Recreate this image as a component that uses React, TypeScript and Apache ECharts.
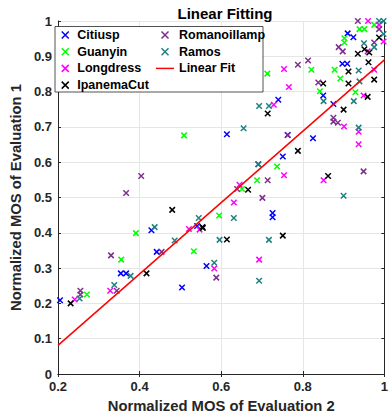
import React, { useEffect, useRef } from "react";
import * as echarts from "echarts";

const seriesNames = ["Citiusp", "Guanyin", "Longdress", "IpanemaCut", "Romanoillamp", "Ramos"];
const seriesColors = ["#0000ff", "#00ff00", "#ff00ff", "#000000", "#7e2f8e", "#1f8080"];

const citiusp: number[][] = [
  [0.91, 0.965], [0.924, 0.954], [0.897, 0.879], [0.909, 0.879], [0.85, 0.789], [0.875, 0.765],
  [0.825, 0.668], [0.74, 0.777], [0.614, 0.679], [0.763, 0.677], [0.751, 0.616], [0.691, 0.594],
  [0.726, 0.456], [0.726, 0.444], [0.429, 0.407], [0.541, 0.419], [0.442, 0.346], [0.564, 0.306],
  [0.354, 0.285], [0.367, 0.285], [0.504, 0.245], [0.205, 0.209],
];
const guanyin: number[][] = [
  [0.975, 0.989], [0.939, 0.977], [0.951, 0.977], [0.902, 0.951], [0.902, 0.939], [0.878, 0.862],
  [0.892, 0.837], [0.842, 0.801], [0.929, 0.798], [0.821, 0.862], [0.713, 0.851], [0.737, 0.588],
  [0.688, 0.549], [0.651, 0.524], [0.595, 0.449], [0.509, 0.676], [0.391, 0.399], [0.533, 0.348],
  [0.355, 0.324], [0.271, 0.225],
];
const longdress: number[][] = [
  [0.96, 1.0], [0.987, 0.989], [0.959, 0.914], [0.998, 0.942], [0.975, 0.862], [0.949, 0.789],
  [0.901, 0.701], [0.937, 0.686], [0.937, 0.651], [0.851, 0.549], [0.754, 0.864], [0.766, 0.813],
  [0.729, 0.763], [0.754, 0.563], [0.645, 0.536], [0.631, 0.486], [0.521, 0.411], [0.547, 0.409],
  [0.583, 0.299], [0.693, 0.324], [0.328, 0.236], [0.241, 0.211],
];
const ipanemaCut: number[][] = [
  [0.987, 0.953], [0.951, 0.92], [0.963, 0.911], [0.935, 0.907], [0.961, 0.883], [0.912, 0.857],
  [0.85, 0.823], [0.912, 0.823], [0.975, 0.834], [0.959, 0.785], [0.9, 0.749], [0.862, 0.561],
  [0.714, 0.738], [0.788, 0.632], [0.666, 0.522], [0.555, 0.414], [0.614, 0.381], [0.751, 0.392],
  [0.48, 0.465], [0.554, 0.416], [0.417, 0.285], [0.231, 0.2],
];
const romanoillamp: number[][] = [
  [0.935, 1.0], [0.987, 0.977], [0.975, 0.939], [0.888, 0.926], [0.898, 0.914], [0.813, 0.888],
  [0.838, 0.826], [0.875, 0.726], [0.875, 0.715], [0.886, 0.712], [0.949, 0.574], [0.788, 0.876],
  [0.763, 0.677], [0.714, 0.549], [0.639, 0.524], [0.701, 0.499], [0.404, 0.561], [0.367, 0.513],
  [0.454, 0.346], [0.33, 0.336], [0.588, 0.273], [0.344, 0.236], [0.255, 0.236], [0.255, 0.225],
];
const ramos: number[][] = [
  [0.987, 1.0], [0.998, 1.0], [0.998, 0.963], [0.95, 0.937], [0.975, 0.926], [0.937, 0.86],
  [0.939, 0.829], [0.851, 0.773], [0.925, 0.773], [0.937, 0.698], [0.9, 0.505], [0.693, 0.759],
  [0.717, 0.759], [0.655, 0.696], [0.691, 0.594], [0.631, 0.442], [0.596, 0.38], [0.717, 0.38],
  [0.545, 0.442], [0.437, 0.416], [0.486, 0.378], [0.583, 0.315], [0.693, 0.264], [0.378, 0.278],
  [0.338, 0.252], [0.253, 0.214],
];
const seriesData = [citiusp, guanyin, longdress, ipanemaCut, romanoillamp, ramos];

const fitName = "Linear Fit";
const fitX = [0.2, 1.0];
const fitY = [0.081, 0.89];

const xTicks = { min: 0.2, max: 1, interval: 0.2 };
const yTicks = { min: 0, max: 1, interval: 0.1 };

const FONT = "'Liberation Sans', Arial, Helvetica, sans-serif";
const X_SYMBOL = "path://M0,0L10,10M10,0L0,10";
const LINE_ICON = "path://M0,0L100,0L100,8L0,8Z";
const AXIS_COLOR = "#262626";

export default function App() {
  const ref = useRef<HTMLDivElement>(null);
  useEffect(() => {
    if (!ref.current) return;
    const chart = echarts.init(ref.current, undefined, { renderer: "svg" });
    const scatterSeries = seriesNames.map((name, i) => ({
      name,
      type: "scatter",
      data: seriesData[i],
      symbol: X_SYMBOL,
      symbolSize: 5.5,
      clip: false,
      itemStyle: { color: seriesColors[i], borderColor: seriesColors[i], borderWidth: 1.5, opacity: 1 },
      emphasis: { disabled: true },
    }));
    const legendText = { fontFamily: FONT, fontWeight: "bold", fontSize: 12.5, color: "#000", lineHeight: 14 };
    const mkLegendItem = (i: number) => ({
      name: seriesNames[i],
      icon: X_SYMBOL,
      itemStyle: { color: seriesColors[i], borderColor: seriesColors[i], borderWidth: 1.5 },
    });
    const axisCommon = {
      axisLine: { show: true, lineStyle: { color: AXIS_COLOR, width: 1 } },
      axisTick: { show: true, inside: true, length: 3, lineStyle: { color: AXIS_COLOR } },
    };
    chart.setOption({
      animation: false,
      backgroundColor: "#ffffff",
      title: {
        text: "Linear Fitting",
        left: 220,
        textAlign: "center",
        top: 1,
        textStyle: { fontFamily: FONT, fontWeight: "bold", fontSize: 15, color: "#000" },
      },
      grid: { left: 51, right: 2, top: 21, bottom: 42, containLabel: false },
      xAxis: [
        {
          type: "value",
          min: xTicks.min,
          max: xTicks.max,
          interval: xTicks.interval,
          name: "Normalized MOS of Evaluation 2",
          nameLocation: "middle",
          nameGap: 24,
          nameTextStyle: { fontFamily: FONT, fontWeight: "bold", fontSize: 14.8, color: "#262626" },
          ...axisCommon,
          axisLabel: { fontFamily: FONT, fontWeight: "bold", fontSize: 13, color: "#262626", margin: 6 },
          splitLine: { show: true, lineStyle: { color: "#e6e6e6", width: 1 } },
        },
        {
          type: "value",
          position: "top",
          min: xTicks.min,
          max: xTicks.max,
          interval: xTicks.interval,
          ...axisCommon,
          axisLabel: { show: false },
          splitLine: { show: false },
        },
      ],
      yAxis: [
        {
          type: "value",
          min: yTicks.min,
          max: yTicks.max,
          interval: yTicks.interval,
          name: "Normalized MOS of Evaluation 1",
          nameLocation: "middle",
          nameGap: 29,
          nameTextStyle: { fontFamily: FONT, fontWeight: "bold", fontSize: 14.8, color: "#262626" },
          ...axisCommon,
          axisLabel: { fontFamily: FONT, fontWeight: "bold", fontSize: 13, color: "#262626", margin: 6 },
          splitLine: { show: true, lineStyle: { color: "#e6e6e6", width: 1 } },
        },
        {
          type: "value",
          position: "right",
          min: yTicks.min,
          max: yTicks.max,
          interval: yTicks.interval,
          ...axisCommon,
          axisLabel: { show: false },
          splitLine: { show: false },
        },
      ],
      legend: [
        {
          orient: "vertical",
          left: 61,
          top: 28,
          itemWidth: 14,
          itemHeight: 7,
          itemGap: 2.7,
          padding: 0,
          z: 20,
          selectedMode: false,
          textStyle: legendText,
          data: [0, 1, 2, 3].map(mkLegendItem),
        },
        {
          orient: "vertical",
          left: 156,
          top: 28,
          itemWidth: 18,
          itemHeight: 7,
          itemGap: 2.7,
          padding: 0,
          z: 20,
          selectedMode: false,
          textStyle: legendText,
          data: [
            mkLegendItem(4),
            mkLegendItem(5),
            { name: fitName, icon: LINE_ICON, itemStyle: { color: "#ff0000", borderWidth: 0 } },
          ],
        },
      ],
      graphic: [
        {
          type: "rect",
          z: 10,
          shape: { x: 55, y: 26.5, width: 208, height: 65.5 },
          style: { fill: "#ffffff", stroke: AXIS_COLOR, lineWidth: 0.8 },
        },
      ],
      series: [
        ...scatterSeries,
        {
          name: fitName,
          type: "line",
          data: fitX.map((x, i) => [x, fitY[i]]),
          symbol: "none",
          showSymbol: false,
          lineStyle: { color: "#ff0000", width: 1.5 },
          itemStyle: { color: "#ff0000" },
          emphasis: { disabled: true },
          z: 3,
        },
      ],
    });
    return () => chart.dispose();
  }, []);
  return (
    <div
      ref={ref}
      style={{ position: "fixed", left: 0, top: 0, width: 391, height: 418 }}
    />
  );
}
